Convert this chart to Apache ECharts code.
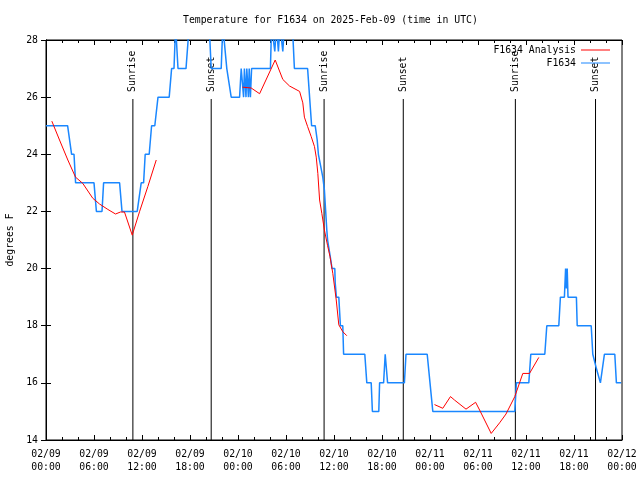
<!DOCTYPE html>
<html>
<head>
<meta charset="utf-8">
<script src="https://cdn.jsdelivr.net/npm/echarts@6/dist/echarts.min.js"></script>
<style>html,body{margin:0;padding:0;background:#fff}#c{width:640px;height:480px}</style>
</head>
<body>
<div id="c"></div>
<script>
// Hours since 2025-02-09 00:00 UTC
const obsHours = [0.0,2.7,3.2,3.5,3.7,6.0,6.3,7.0,7.2,9.2,9.5,11.4,11.9,12.2,12.4,12.9,13.2,13.6,14.0,15.4,15.7,16.0,16.2,16.35,16.5,17.5,17.9,20.4,20.65,21.9,22.1,22.3,22.6,23.15,24.2,24.4,24.56,24.7,24.8,25.0,25.1,25.3,25.4,25.55,25.7,28.05,28.2,28.45,28.6,28.8,29.05,29.25,29.4,29.6,29.8,30.8,31.05,32.7,32.95,33.05,33.2,33.65,33.9,34.05,34.3,34.6,34.8,34.95,35.1,35.2,35.45,35.6,35.75,36.1,36.15,36.3,36.6,36.8,37.1,37.2,39.85,40.1,40.65,40.8,41.6,41.7,42.2,42.4,42.5,42.7,44.8,45.0,47.65,48.0,48.35,58.6,58.8,60.35,60.6,62.35,62.6,64.1,64.3,64.8,64.95,65.05,65.15,65.25,66.3,66.4,68.15,68.35,68.55,68.8,69.3,69.5,69.8,71.1,71.3,71.9];
const obsTemps = [25,25,24,24,23,23,22,22,23,23,22,22,23,23,24,24,25,25,26,26,27,27,28.5,28.5,27,27,28.5,28.5,27,27,28.5,28.5,27,26,26,27,27,26,27,26,27,26,27,26,27,27,28.5,28.5,27.6,28.5,27.6,28.5,28.5,27.6,28.5,28.5,27,27,26,26,25,25,24.5,24,24,23.2,22.75,22.05,21.35,21,21,20.3,20,20,19.5,19,19,18,18,17,17,16,16,15,15,16,16,17,17,16,16,17,17,16,15,15,16,16,17,17,18,18,19,19,20,19.3,20,19,19,18,18,17,17,16.5,16,16,17,17,16,16];

const anaHours1 = [0.73,1.69,2.73,3.69,4.6,5.85,6.69,7.73,8.69,9.31,9.81,10.78,11.69,12.73,13.78];
const anaTemps1 = [25.16,24.5,23.8,23.2,22.98,22.46,22.26,22.07,21.91,21.98,21.98,21.17,21.99,22.87,23.8];
const anaHours2 = [24.56,25.65,26.7,28.65,29.6,30.44,31.7,32.1,32.3,32.7,33.15,33.56,33.78,33.98,34.2,34.48,34.8,35.2,35.5,35.85,36.28,36.6,37.1,37.6];
const anaTemps2 = [26.35,26.32,26.12,27.3,26.62,26.39,26.2,25.8,25.3,24.97,24.62,24.27,23.9,23.33,22.4,21.93,21.35,20.8,20.42,19.83,18.9,18.03,17.79,17.65];
const anaHours3 = [48.56,49.6,50.56,51.06,52.5,53.7,54.2,55.65,56.7,57.5,58.6,59.6,60.44,61.6];
const anaTemps3 = [15.24,15.11,15.52,15.4,15.08,15.32,15.05,14.23,14.6,14.91,15.52,16.33,16.33,16.89];

const eventHours = [10.86,20.65,34.76,44.66,58.67,68.69];
const eventLabels = ['Sunrise','Sunset','Sunrise','Sunset','Sunrise','Sunset'];

const yTicks = [14,16,18,20,22,24,26,28];

const FONT = '"DejaVu Sans Mono", "Liberation Mono", monospace';

function pairs(xs, ys){ return xs.map((x,i)=>[x, ys[i]]); }
const anaData = pairs(anaHours1, anaTemps1).concat([[null,null]], pairs(anaHours2, anaTemps2), [[null,null]], pairs(anaHours3, anaTemps3));
const obsData = pairs(obsHours, obsTemps);

function pad(n){ return (n<10?'0':'')+n; }
function xLabel(h){
  const day = 9 + Math.floor(h/24);
  const hr = Math.round(h % 24);
  return '02/' + pad(day) + '\n' + pad(hr) + ':00';
}

const chart = echarts.init(document.getElementById('c'), null, {renderer:'canvas'});
const axisBase = {
  axisLine:{show:true, lineStyle:{color:'#000', width:1}},
  splitLine:{show:false}
};
const legendCommon = {orient:'vertical', right:30, align:'right', itemWidth:29, itemHeight:1, padding:0,
  textStyle:{fontFamily:FONT, fontSize:9.8, color:'#000'}};
chart.setOption({
  animation:false,
  backgroundColor:'#fff',
  title:{
    text:'Temperature for F1634 on 2025-Feb-09 (time in UTC)',
    left:183, top:15, padding:0,
    textStyle:{fontFamily:FONT, fontSize:9.8, fontWeight:'normal', color:'#000'}
  },
  legend:[
    Object.assign({}, legendCommon, {top:45, data:[{name:'F1634 Analysis', icon:'rect'}]}),
    Object.assign({}, legendCommon, {top:58, data:[{name:'F1634', icon:'rect'}]})
  ],
  grid:{left:46, right:18, top:40, bottom:40, show:true, borderColor:'#000', borderWidth:1,
        containLabel:false, outerBoundsMode:'none'},
  xAxis:[
    Object.assign({}, axisBase, {
      type:'value', min:0, max:72, interval:6, position:'bottom',
      axisTick:{show:true, inside:true, length:5, lineStyle:{color:'#000'}},
      minorTick:{show:true, splitNumber:3, length:3, lineStyle:{color:'#000'}},
      axisLabel:{formatter:xLabel, fontFamily:FONT, fontSize:9.8, color:'#000', lineHeight:13, margin:8, showMinLabel:true, showMaxLabel:true}
    }),
    Object.assign({}, axisBase, {
      type:'value', min:0, max:72, interval:6, position:'top',
      axisTick:{show:true, inside:true, length:5, lineStyle:{color:'#000'}},
      minorTick:{show:true, splitNumber:3, length:3, lineStyle:{color:'#000'}},
      axisLabel:{show:false}
    })
  ],
  yAxis:[
    Object.assign({}, axisBase, {
      type:'value', min:yTicks[0], max:yTicks[yTicks.length-1], interval:2, position:'left',
      name:'degrees F', nameLocation:'middle', nameRotate:90, nameGap:31,
      nameTextStyle:{fontFamily:FONT, fontSize:9.8, color:'#000'},
      axisTick:{show:true, inside:true, length:5, lineStyle:{color:'#000'}},
      axisLabel:{fontFamily:FONT, fontSize:9.8, color:'#000', margin:8}
    }),
    Object.assign({}, axisBase, {
      type:'value', min:yTicks[0], max:yTicks[yTicks.length-1], interval:2, position:'right',
      axisTick:{show:true, inside:true, length:5, lineStyle:{color:'#000'}},
      axisLabel:{show:false}
    })
  ],
  series:[
    {
      name:'events', type:'custom', xAxisIndex:0, yAxisIndex:0, clip:false, silent:true, z:1,
      data: eventHours.map((h,i)=>[h,i]),
      renderItem:function(params, api){
        const h = api.value(0);
        const i = api.value(1);
        const b = api.coord([h, yTicks[0]]);
        const t = api.coord([h, yTicks[yTicks.length-1]]);
        const lineTop = t[1] + 59;
        return {
          type:'group',
          children:[
            {type:'line', shape:{x1:b[0], y1:b[1], x2:b[0], y2:lineTop}, style:{stroke:'#000', lineWidth:1}},
            {type:'text', x:b[0], y:lineTop-7, rotation:Math.PI/2,
             style:{text:eventLabels[i], fontFamily:FONT, fontSize:9.8, fill:'#000', align:'left', verticalAlign:'middle'}}
          ]
        };
      }
    },
    {
      name:'F1634 Analysis', type:'line', data:anaData, symbol:'none', connectNulls:false,
      lineStyle:{color:'#ff0000', width:1}, itemStyle:{color:'#ff0000'}, z:3, clip:true
    },
    {
      name:'F1634', type:'line', data:obsData, symbol:'none',
      lineStyle:{color:'#1a87ff', width:1.5}, itemStyle:{color:'#1a87ff'}, z:2, clip:true
    }
  ]
});
</script>
</body>
</html>
